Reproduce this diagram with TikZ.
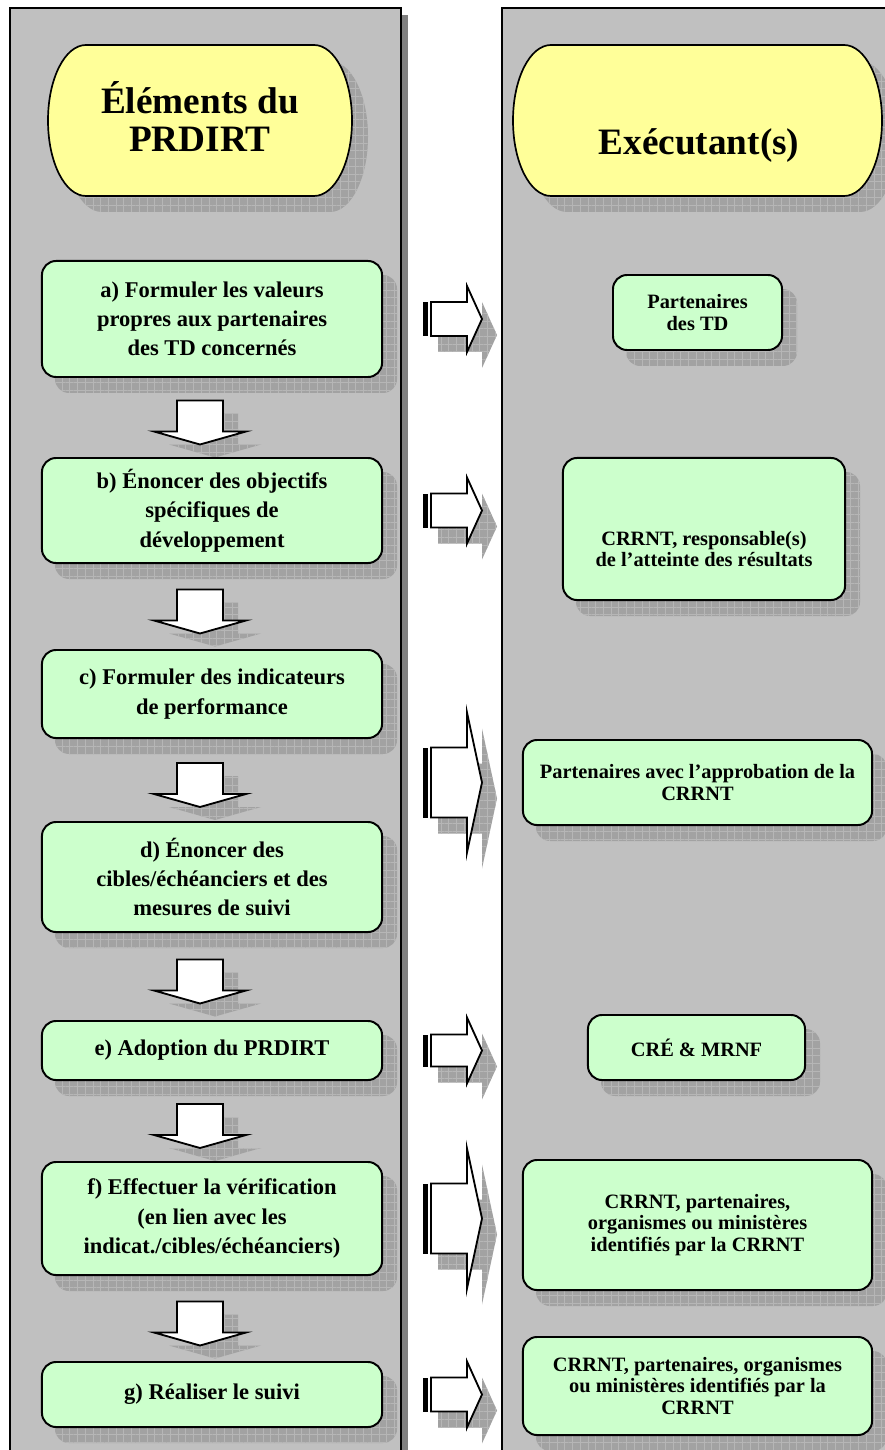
\documentclass[tikz,border=0pt]{standalone}
\usepackage{fontspec}
\setmainfont{Liberation Serif}
\usetikzlibrary{calc,patterns.meta}
\definecolor{panelgray}{HTML}{C0C0C0}
\definecolor{panelshadow}{HTML}{808080}
\definecolor{boxgreen}{HTML}{CCFFCC}
\definecolor{headyellow}{HTML}{FFFF99}
\definecolor{shadowgray}{HTML}{A2A2A2}
\definecolor{gridgray}{HTML}{B6B6B6}
\pgfdeclarelayer{bg}
\pgfdeclarelayer{shd}
\pgfsetlayers{bg,shd,main}
\tikzset{
  panel/.style={fill=panelgray,draw=black,line width=1pt},
  stepbox/.style={draw,fill=boxgreen,line width=1.4pt,rounded corners=10pt,align=center,
    minimum width=8.5cm,font=\bfseries\fontsize{16}{20.8}\selectfont},
  exebox/.style={draw,fill=boxgreen,line width=1.4pt,rounded corners=10pt,align=center,
    font=\bfseries\fontsize{14.5}{15}\selectfont},
  exetext/.style={align=center,font=\bfseries\fontsize{14.5}{15}\selectfont},
  headtext/.style={align=center,font=\bfseries\fontsize{26.5}{27}\selectfont},
  headshape/.style={draw,fill=headyellow,line width=1.2pt},
  shadowgrid/.style={fill=shadowgray,
    postaction={pattern={Lines[distance=5.5pt,line width=0.4pt]},pattern color=gridgray},
    postaction={pattern={Lines[distance=5.5pt,angle=90,line width=0.4pt]},pattern color=gridgray}},
  blockarrow/.style={draw,fill=white,line width=1.3pt,line join=miter},
}
% stadium: x0,y0,x1,y1
\newcommand\headpath[4]{({#1+38},#2) -- ({#3-38},#2)
  .. controls ({#3-17},#2) and (#3,{(#2+#4)/2-42}) .. (#3,{(#2+#4)/2})
  .. controls (#3,{(#2+#4)/2+42}) and ({#3-17},#4) .. ({#3-38},#4)
  -- ({#1+38},#4)
  .. controls ({#1+17},#4) and (#1,{(#2+#4)/2+42}) .. (#1,{(#2+#4)/2})
  .. controls (#1,{(#2+#4)/2-42}) and ({#1+17},#2) .. cycle}
\newcommand\flowdown[1]{%
  \begin{pgfonlayer}{shd}
    \fill[shadowgrid,shift={(#1)},shift={(15,13)}] (-23,0) -- (23,0) -- (23,31) -- (46,31) -- (0,44) -- (-46,31) -- (-23,31) -- cycle;
  \end{pgfonlayer}
  \draw[blockarrow,shift={(#1)}] (-23,0) -- (23,0) -- (23,31) -- (46,31) -- (0,44) -- (-46,31) -- (-23,31) -- cycle;}
\newcommand\flowright[3]{%
  \begin{pgfonlayer}{shd}
    \fill[shadowgrid,shift={(gap |- #1.center)},shift={(15,16)}] (0,-#2) -- (44,-#2) -- (44,-#3) -- (59,0) -- (44,#3) -- (44,#2) -- (0,#2) -- cycle;
  \end{pgfonlayer}
  \fill[shift={(gap |- #1.center)}] (0,-#2) rectangle (5,#2);
  \draw[blockarrow,shift={(gap |- #1.center)}] (8,-#2) -- (44,-#2) -- (44,-#3) -- (59,0) -- (44,#3) -- (44,#2) -- (8,#2) -- cycle;}

\begin{document}
\begin{tikzpicture}[x=0.025cm,y=-0.025cm]
\useasboundingbox (0,0) rectangle (885,1450);
\begin{pgfonlayer}{bg}
\fill[panelshadow] (401,15) rectangle (408,1470);
\draw[panel] (10,8) rectangle (401,1470);
\draw[panel] (502,8) rectangle (900,1470);
\end{pgfonlayer}
\coordinate (gap) at (423,0);

% headers
\begin{pgfonlayer}{shd}
\fill[shadowgrid,shift={(16,16)}] \headpath{48}{45}{352}{196};
\fill[shadowgrid,shift={(16,16)}] \headpath{513}{45}{882}{196};
\end{pgfonlayer}
\draw[headshape] \headpath{48}{45}{352}{196};
\draw[headshape] \headpath{513}{45}{882}{196};
\node[headtext] (hl) at (200,117) {Éléments du\\PRDIRT};
\node[headtext] (hr) at (699,146) {Exécutant(s)};

% PRDIRT steps
\node[stepbox,minimum height=2.9cm] (a) at (212,319) {a) Formuler les valeurs\\propres aux partenaires\\des TD concernés};
\node[stepbox,minimum height=2.625cm] (b) at (212,510.5) {b) Énoncer des objectifs\\spécifiques de\\développement};
\node[stepbox,minimum height=2.2cm] (c) at (212,694) {c) Formuler des indicateurs\\de performance};
\node[stepbox,minimum height=2.75cm] (d) at (212,877) {d) Énoncer des\\cibles/échéanciers et des\\mesures de suivi};
\node[stepbox,minimum height=1.475cm] (e) at (212,1050.5) {e) Adoption du PRDIRT};
\node[stepbox,minimum height=2.825cm] (f) at (212,1218.5) {f) Effectuer la vérification\\(en lien avec les\\indicat./cibles/échéanciers)};
\node[stepbox,minimum height=1.625cm] (g) at (212,1394.5) {g) Réaliser le suivi};

% executants
\node[exebox,minimum width=4.225cm,minimum height=1.875cm] (x1) at (697.5,312.5) {Partenaires\\des TD};
\node[exebox,minimum width=7.05cm,minimum height=3.55cm] (x2) at (704,529) {};
\node[exetext] (x2t) at ([yshift=-0.5cm]x2.center) {CRRNT, responsable(s)\\de l’atteinte des résultats};
\node[exebox,minimum width=8.725cm,minimum height=2.125cm] (x3) at (697.5,782.5) {Partenaires avec l’approbation de la\\CRRNT};
\node[exebox,minimum width=5.425cm,minimum height=1.625cm] (x4) at (696.5,1047.5) {CRÉ \& MRNF};
\node[exebox,minimum width=8.725cm,minimum height=3.25cm] (x5) at (697.5,1225) {CRRNT, partenaires,\\organismes ou ministères\\identifiés par la CRRNT};
\node[exebox,minimum width=8.725cm,minimum height=2.45cm] (x6) at (697.5,1386) {CRRNT, partenaires, organismes\\ou ministères identifiés par la\\CRRNT};

\begin{pgfonlayer}{shd}
\foreach \n in {a,b,c,d,e,f,g,x1,x2,x3,x4,x5,x6}
  \fill[shadowgrid,rounded corners=10pt] ([shift={(14,15)}]\n.north west) rectangle ([shift={(14,15)}]\n.south east);
\end{pgfonlayer}

\foreach \u/\v in {a/b,b/c,c/d,d/e,e/f,f/g}
{
  \coordinate (m) at ($(\u.south)!0.5!(\v.north)+(0,-17)$);
  \flowdown{hl.center |- m}
}
\foreach \n/\s/\h in {a/17/33,b/17/33,x3/35/70,e/16/33,f/35/70,g/17/33}
{
  \flowright{\n}{\s}{\h}
}
\end{tikzpicture}
\end{document}
